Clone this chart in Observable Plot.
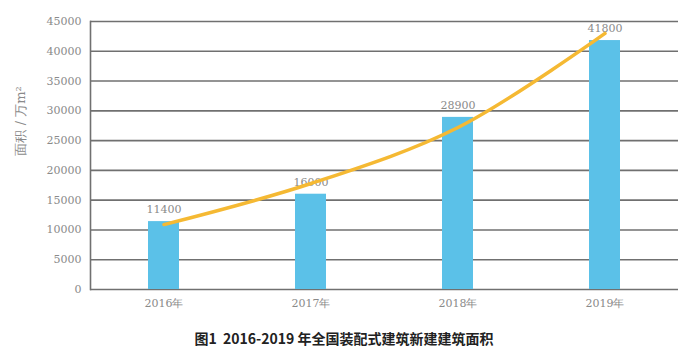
<!DOCTYPE html>
<html>
<head>
<meta charset="utf-8">
<script src="https://cdn.jsdelivr.net/npm/d3@7"></script>
<script src="https://cdn.jsdelivr.net/npm/@observablehq/plot@0.6"></script>
<style>
  html, body { margin: 0; padding: 0; background: #fff; }
  #chart { width: 682px; }
  #caption { width: 682px; text-align: center; font-family: "Noto Sans CJK SC", sans-serif; font-weight: bold; font-size: 14px; color: #222; margin-top: 9px; line-height: 18px; padding-left: 6px; box-sizing: border-box; }
</style>
</head>
<body>
<div id="chart"></div>
<div id="caption">图1&nbsp;&nbsp;2016-2019 年全国装配式建筑新建建筑面积</div>
<script>
const years = ["2016年", "2017年", "2018年", "2019年"];
const areas = [11400, 16000, 28900, 41800];
const trend = [10900, 17800, 27200, 43000];
const yTicks = [0, 5000, 10000, 15000, 20000, 25000, 30000, 35000, 40000, 45000];
const yLabel = "面积 / 万m²";

const bars = years.map((y, i) => ({year: y, value: areas[i]}));
const trendData = years.map((y, i) => ({year: y, value: trend[i]}));

const font = "'DejaVu Serif', 'Liberation Serif', serif";

const chart = Plot.plot({
  width: 682,
  height: 320,
  marginLeft: 90,
  marginRight: 4,
  marginTop: 21,
  marginBottom: 31,
  style: {fontFamily: font, fontSize: "11px", color: "#8a8a8a", background: "#fff"},
  x: {domain: years, paddingInner: 0.79, paddingOuter: 0.395, align: 0.5, label: null},
  y: {domain: [0, 45000], label: null},
  marks: [
    Plot.ruleY(yTicks, {stroke: "#707070", strokeWidth: 1.6, strokeOpacity: 1}),
    Plot.frame({anchor: "left", stroke: "#707070", strokeWidth: 1.6}),
    Plot.barY(bars, {x: "year", y: "value", fill: "#5bc1e8"}),
    Plot.text(bars, {x: "year", y: "value", text: d => String(d.value), dy: -12, fill: "#8a8a8a", fontSize: 11}),
    Plot.line(trendData, {x: "year", y: "value", curve: "catmull-rom", stroke: "#f5b933", strokeWidth: 3.5}),
    Plot.axisY({ticks: yTicks, tickSize: 0, tickPadding: 9, tickFormat: d => String(d), fill: "#8a8a8a", fontSize: 11, label: null}),
    Plot.text([yLabel], {frameAnchor: "left", text: d => d, rotate: -90, dx: -70, fill: "#8a8a8a", fontSize: 13}),
    Plot.axisX({tickSize: 0, tickPadding: 10, fill: "#8a8a8a", fontSize: 11, label: null})
  ]
});
document.getElementById("chart").appendChild(chart);
</script>
</body>
</html>
